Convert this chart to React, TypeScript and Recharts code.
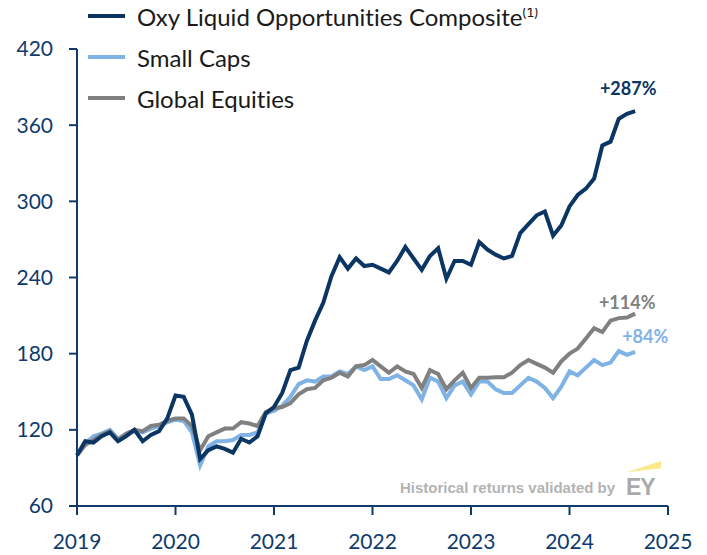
import React from "react";
import { LineChart, Line, XAxis, YAxis, Legend } from "recharts";

// monthly index values, Jan 2019 .. Sep 2024 (start = 100)
const START_YEAR = 2019;

const oxyComposite = [
  100, 111, 110, 115, 118, 111, 115, 120, 111, 116, 119, 129,
  147, 146, 132, 97, 104, 107, 105, 102, 113, 110, 115, 133,
  138, 149, 167, 169, 190, 206, 220, 241, 256, 247, 255, 249,
  250, 247, 244, 253, 264, 255, 246, 257, 263, 239, 253, 253,
  250, 268, 262, 258, 255, 257, 275, 282, 289, 292, 273, 281,
  296, 305, 310, 318, 344, 347, 365, 369, 371,
];

const smallCaps = [
  100, 109, 115, 117, 120, 113, 117, 119, 118, 121, 123, 126,
  128, 127, 118, 92, 107, 111, 111, 112, 116, 116, 118, 133,
  135, 139, 146, 156, 159, 158, 162, 162, 166, 164, 170, 167,
  170, 160, 160, 163, 159, 155, 144, 161, 158, 145, 155, 158,
  148, 158, 158, 152, 149, 149, 155, 161, 158, 153, 145, 154,
  166, 163, 169, 175, 171, 173, 182, 179, 181.5,
];

const globalEquities = [
  100, 108, 112, 116, 119, 112, 117, 120, 119, 123, 124, 127,
  129, 129, 123, 104, 115, 118, 121, 121, 126, 125, 123, 134,
  137, 138, 141, 148, 152, 153, 159, 161, 165, 162, 170, 171,
  175, 170, 165, 170, 166, 164, 153, 167, 164, 152, 159, 165,
  153, 161, 161, 161.5, 161.5, 165, 171, 175, 172, 169, 165, 174,
  180, 184, 192, 200, 197, 206, 208, 208.5, 211.5,
];

const yearTicks = [2019, 2020, 2021, 2022, 2023, 2024, 2025];
const valueTicks = [60, 120, 180, 240, 300, 360, 420];

const endLabels = { oxy: "+287%", small: "+84%", global: "+114%" };

const NAVY = "#0b3563";
const AXIS = "#0f3b6c";
const LIGHT_BLUE = "#7fb2e5";
const GRAY = "#808080";

const data = oxyComposite.map((v, i) => ({
  t: START_YEAR + i / 12,
  oxy: v,
  small: smallCaps[i],
  global: globalEquities[i],
}));
const lastIdx = data.length - 1;

const legendItems = [
  { name: "Oxy Liquid Opportunities Composite", sup: "(1)", color: NAVY },
  { name: "Small Caps", sup: "", color: LIGHT_BLUE },
  { name: "Global Equities", sup: "", color: GRAY },
];

function LegendBox() {
  return (
    <div style={{ fontFamily: "Lato", fontSize: 24, color: "#1a1a1a", fontVariantLigatures: "none" }}>
      {legendItems.map((it) => (
        <div
          key={it.name}
          style={{ display: "flex", alignItems: "center", height: 16, marginBottom: 25, whiteSpace: "nowrap" }}
        >
          <span style={{ display: "inline-block", width: 37, height: 4, background: it.color, marginRight: 12 }} />
          <span>
            {it.name}
            {it.sup && <sup style={{ fontSize: 14 }}>{it.sup}</sup>}
          </span>
        </div>
      ))}
    </div>
  );
}

function endLabel(text: string, color: string, dx: number, dy: number) {
  return (p: any) => {
    if (p.index !== lastIdx) return null;
    return (
      <text
        x={p.x + dx}
        y={p.y + dy}
        textAnchor="middle"
        fill={color}
        fontFamily="Lato"
        fontWeight={700}
        fontSize={18}
      >
        {text}
      </text>
    );
  };
}

const tickStyle = { fill: AXIS, fontSize: 21, fontFamily: "Lato" };

export default function App() {
  return (
    <div style={{ position: "relative", width: 699, height: 547 }}>
      <LineChart width={699} height={547} data={data} margin={{ top: 41, right: 39, left: 0, bottom: 19 }}>
        <XAxis
          dataKey="t"
          type="number"
          domain={[2019, 2025]}
          ticks={yearTicks}
          allowDecimals={false}
          height={30}
          tickSize={9}
          tickMargin={19}
          tick={tickStyle}
          axisLine={{ stroke: AXIS, strokeWidth: 2 }}
          tickLine={{ stroke: AXIS, strokeWidth: 2 }}
        />
        <YAxis
          type="number"
          domain={[60, 420]}
          ticks={valueTicks}
          width={69}
          tickSize={8}
          tickMargin={16}
          tick={tickStyle}
          axisLine={{ stroke: AXIS, strokeWidth: 2 }}
          tickLine={{ stroke: AXIS, strokeWidth: 2 }}
        />
        <Legend
          layout="horizontal"
          verticalAlign="middle"
          align="center"
          content={<LegendBox />}
          wrapperStyle={{ top: 0, left: 80, width: 560 }}
        />
        <Line
          dataKey="small"
          stroke={LIGHT_BLUE}
          strokeWidth={4}
          dot={false}
          isAnimationActive={false}
          label={endLabel(endLabels.small, LIGHT_BLUE, 10, -9)}
        />
        <Line
          dataKey="global"
          stroke={GRAY}
          strokeWidth={4}
          dot={false}
          isAnimationActive={false}
          label={endLabel(endLabels.global, GRAY, -8, -5)}
        />
        <Line
          dataKey="oxy"
          stroke={NAVY}
          strokeWidth={4}
          dot={false}
          isAnimationActive={false}
          label={endLabel(endLabels.oxy, NAVY, -7, -16)}
        />
      </LineChart>
      <div
        style={{
          position: "absolute",
          left: 392,
          top: 471,
          fontFamily: "Liberation Sans",
          fontWeight: 700,
          fontSize: 15,
          color: "#b3b3b3",
          whiteSpace: "nowrap",
        }}
      >
        Historical returns validated by
      </div>
      <div
        style={{
          position: "absolute",
          left: 618,
          top: 466,
          fontFamily: "Liberation Sans",
          fontWeight: 700,
          fontSize: 23,
          letterSpacing: -1,
          color: "#aaaaaa",
        }}
      >
        EY
      </div>
      <svg style={{ position: "absolute", left: 615, top: 449 }} width={40} height={18}>
        <polygon points="3.7,15.3 38,4 38,11.3" fill="#fbe98a" />
      </svg>
    </div>
  );
}
